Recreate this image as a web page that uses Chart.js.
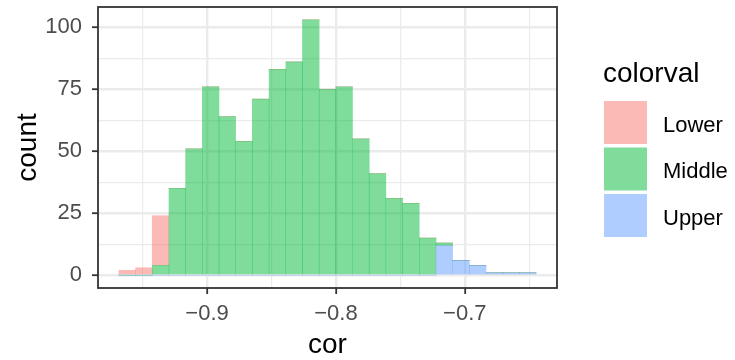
<!DOCTYPE html>
<html>
<head>
<meta charset="utf-8">
<script src="https://cdn.jsdelivr.net/npm/chart.js@4.4.1/dist/chart.umd.min.js"></script>
<style>
  html, body { margin: 0; padding: 0; background: #fff; }
  #wrap { width: 735px; height: 360px; }
</style>
</head>
<body>
<div id="wrap"><canvas id="histChart" width="735" height="360"></canvas></div>
<script>
// histogram bins (centres)
const binCenters = [
  -0.9620, -0.9490, -0.9361, -0.9231, -0.9102, -0.8972, -0.8843, -0.8713, -0.8584,
  -0.8454, -0.8324, -0.8195, -0.8065, -0.7936, -0.7806, -0.7677, -0.7547, -0.7418,
  -0.7288, -0.7159, -0.7029, -0.6900, -0.6770, -0.6641, -0.6511
];
const lowerCounts  = [2, 3, 20, 0, 0, 0, 0, 0, 0, 0, 0, 0, 0, 0, 0, 0, 0, 0, 0, 0, 0, 0, 0, 0, 0];
const middleCounts = [0, 0, 4, 35, 51, 76, 64, 54, 71, 83, 86, 103, 75, 76, 55, 41, 31, 29, 15, 1, 0, 0, 0, 0, 0];
const upperCounts  = [0, 0, 0, 0, 0, 0, 0, 0, 0, 0, 0, 0, 0, 0, 0, 0, 0, 0, 0, 12, 6, 4, 1, 1, 1];

const xTicks = [-0.95, -0.9, -0.85, -0.8, -0.75, -0.7, -0.65];
const yTicks = [0, 12.5, 25, 37.5, 50, 62.5, 75, 87.5, 100];
const groupNames = ['Lower', 'Middle', 'Upper'];

const FONT = '"Liberation Sans", Arial, Helvetica, sans-serif';
const groupFill = {
  Lower: 'rgba(248,118,109,0.5)',
  Middle: 'rgba(0,186,56,0.5)',
  Upper: 'rgba(97,156,255,0.5)'
};

const isMajorX = v => Math.abs(v * 10 - Math.round(v * 10)) < 1e-6;
const isMajorY = v => v % 25 === 0;

function series(counts) {
  return binCenters.map((x, i) => ({ x: x, y: counts[i] }));
}

// ggplot stacks the first level on top, so draw Upper first
const datasets = [
  { label: 'Upper', data: series(upperCounts), backgroundColor: groupFill.Upper },
  { label: 'Middle', data: series(middleCounts), backgroundColor: groupFill.Middle },
  { label: 'Lower', data: series(lowerCounts), backgroundColor: groupFill.Lower }
];

const panelAndLegend = {
  id: 'panelAndLegend',
  afterDraw(chart) {
    const { ctx, chartArea: a } = chart;
    ctx.save();
    ctx.strokeStyle = '#333333';
    ctx.lineWidth = 1.8;
    ctx.strokeRect(a.left, a.top, a.right - a.left, a.bottom - a.top);

    ctx.fillStyle = '#000';
    ctx.textBaseline = 'alphabetic';
    ctx.textAlign = 'left';
    ctx.font = '28px ' + FONT;
    ctx.fillText('colorval', 603, 82);

    ctx.font = '22px ' + FONT;
    groupNames.forEach((name, i) => {
      const top = 101 + i * 46.5;
      ctx.fillStyle = groupFill[name];
      ctx.fillRect(604, top, 43, 43);
      ctx.fillStyle = '#000';
      ctx.fillText(name, 663, top + 30.7);
    });
    ctx.restore();
  }
};

new Chart(document.getElementById('histChart').getContext('2d'), {
  type: 'bar',
  data: { datasets: datasets },
  plugins: [panelAndLegend],
  options: {
    responsive: false,
    animation: false,
    layout: { padding: { top: 7, right: 178, left: 0, bottom: 0 } },
    plugins: { legend: { display: false }, tooltip: { enabled: false } },
    datasets: { bar: { barPercentage: 1, categoryPercentage: 1, borderWidth: 0 } },
    scales: {
      x: {
        type: 'linear',
        stacked: true,
        offset: false,
        min: -0.98464,
        max: -0.62843,
        afterFit: s => { s.height = 72; s.paddingLeft = 0; s.paddingRight = 0; },
        afterBuildTicks: s => { s.ticks = xTicks.map(v => ({ value: v })); },
        border: { display: false },
        grid: {
          offset: false,
          color: '#EBEBEB',
          lineWidth: c => (c.tick && isMajorX(c.tick.value) ? 2.4 : 1.2),
          tickColor: c => (c.tick && isMajorX(c.tick.value) ? '#333333' : 'rgba(0,0,0,0)'),
          tickWidth: 1.8,
          tickLength: 6
        },
        ticks: {
          autoSkip: false,
          maxRotation: 0,
          padding: 7,
          color: '#4D4D4D',
          font: { family: FONT, size: 22 },
          callback: v => (isMajorX(v) ? (v < 0 ? '\u2212' : '') + Math.abs(v).toFixed(1) : '')
        },
        title: {
          display: true,
          text: 'cor',
          color: '#000',
          font: { family: FONT, size: 28, lineHeight: 1 },
          padding: { top: 0, bottom: 1 }
        }
      },
      y: {
        stacked: true,
        min: -5.15,
        max: 108.15,
        afterFit: s => { s.width = 98; s.paddingTop = 0; s.paddingBottom = 0; },
        afterBuildTicks: s => { s.ticks = yTicks.map(v => ({ value: v })); },
        border: { display: false },
        grid: {
          color: '#EBEBEB',
          lineWidth: c => (c.tick && isMajorY(c.tick.value) ? 2.4 : 1.2),
          tickColor: c => (c.tick && isMajorY(c.tick.value) ? '#333333' : 'rgba(0,0,0,0)'),
          tickWidth: 1.8,
          tickLength: 6
        },
        ticks: {
          autoSkip: false,
          padding: 10,
          color: '#4D4D4D',
          font: { family: FONT, size: 22 },
          callback: v => (isMajorY(v) ? String(v) : '')
        },
        title: {
          display: true,
          text: 'count',
          color: '#000',
          font: { family: FONT, size: 28, lineHeight: 1 },
          padding: { top: 14, bottom: 0 }
        }
      }
    }
  }
});
</script>
</body>
</html>
